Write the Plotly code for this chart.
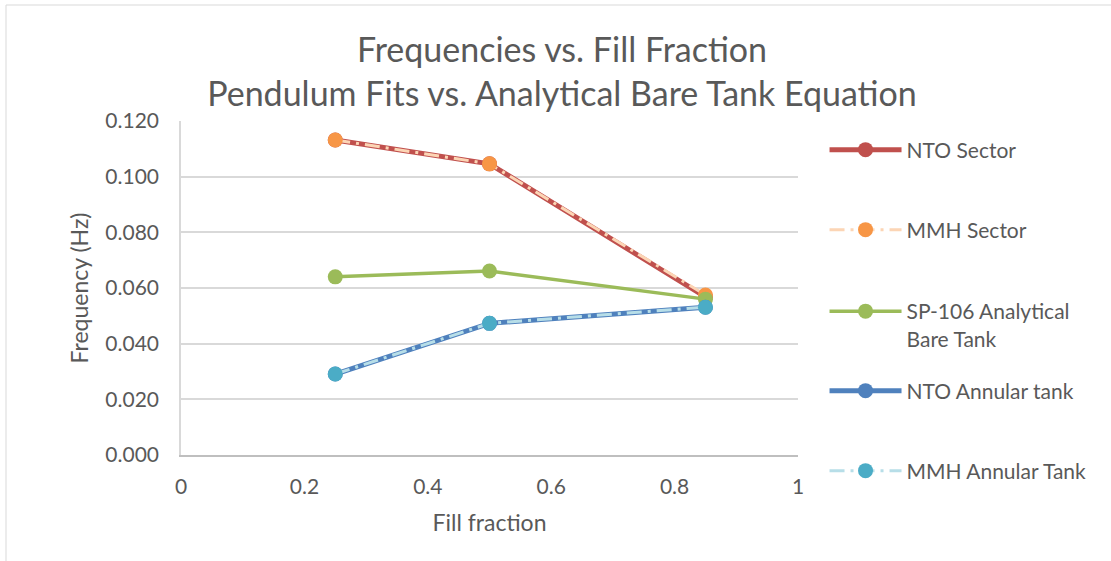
import plotly.graph_objects as go

fill = [0.25, 0.5, 0.85]
nto_sector = [0.1132, 0.1046, 0.0568]
mmh_sector = [0.1132, 0.1046, 0.0575]
sp106 = [0.0640, 0.0661, 0.0560]
nto_annular = [0.0291, 0.0473, 0.0531]
mmh_annular = [0.0291, 0.0473, 0.0531]

x_ticks = [0, 0.2, 0.4, 0.6, 0.8, 1]
x_labels = ["0", "0.2", "0.4", "0.6", "0.8", "1"]
y_ticks = [0, 0.02, 0.04, 0.06, 0.08, 0.10, 0.12]

FONT = "Lato"
TXT = "#595959"

series = [
    ("NTO Sector", nto_sector, "#C0504D", "#C0504D", 5, "solid"),
    ("MMH Sector", mmh_sector, "#FCD5B5", "#F79646", 3, "longdashdot"),
    ("SP-106 Analytical<br>Bare Tank", sp106, "#9BBB59", "#9BBB59", 3.5, "solid"),
    ("NTO Annular tank", nto_annular, "#4F81BD", "#4F81BD", 5, "solid"),
    ("MMH Annular Tank", mmh_annular, "#B7DEE8", "#4BACC6", 3, "longdashdot"),
]
# legend entry centres (pixels from top of the figure)
legend_centres = [150, 230, 325, 391, 471]

PLOT_BOTTOM, PLOT_H = 455, 334

fig = go.Figure()
layout_legends = {}
for i, (name, vals, lc, mc, w, dash) in enumerate(series):
    lid = "legend" if i == 0 else f"legend{i + 1}"
    fig.add_trace(go.Scatter(
        x=fill, y=vals, name=name, mode="lines+markers",
        legend=lid,
        line=dict(color=lc, width=w, dash=dash),
        marker=dict(color=mc, size=15, line=dict(width=0)),
    ))
    layout_legends[lid] = dict(
        x=1.043, xanchor="left",
        y=(PLOT_BOTTOM - legend_centres[i]) / PLOT_H, yanchor="middle",
        font=dict(family=FONT, size=21, color=TXT),
        itemwidth=72, valign="top", bgcolor="rgba(0,0,0,0)",
    )

fig.update_layout(
    width=1111, height=561,
    margin=dict(l=181, r=313, t=121, b=106),
    paper_bgcolor="white", plot_bgcolor="white",
    font=dict(family=FONT, color=TXT, size=20),
    title=dict(
        text="Frequencies vs. Fill Fraction<br>Pendulum Fits vs. Analytical Bare Tank Equation",
        x=562 / 1111, xanchor="center", y=1 - 62 / 561, yanchor="middle",
        font=dict(family=FONT, size=34, color=TXT),
    ),
    showlegend=True,
    **layout_legends,
)

fig.update_xaxes(
    range=[0, 1], tickvals=x_ticks, ticktext=x_labels,
    showgrid=False, zeroline=False,
    showline=True, linecolor="#BFBFBF", linewidth=1.5,
    ticks="outside", ticklen=12, tickcolor="rgba(0,0,0,0)",
    tickfont=dict(size=21, color=TXT),
    title=dict(text="Fill fraction", font=dict(size=23, color=TXT), standoff=18),
)
fig.update_yaxes(
    range=[0, 0.12], tickvals=y_ticks, tickformat=".3f",
    showgrid=True, gridcolor="#D9D9D9", gridwidth=1.5, zeroline=False,
    showline=True, linecolor="#D9D9D9", linewidth=1.5,
    ticks="outside", ticklen=16, tickcolor="rgba(0,0,0,0)",
    tickfont=dict(size=21, color=TXT),
    title=dict(text="Frequency (Hz)", font=dict(size=23, color=TXT), standoff=10),
)

# outer chart border (partially visible, as in the reference)
fig.add_shape(type="rect", xref="paper", yref="paper",
              x0=(6 - 181) / 617, x1=(1140 - 181) / 617,
              y0=(455 - 600) / 334, y1=(455 - 5) / 334,
              line=dict(color="#D9D9D9", width=1), layer="below")

fig.write_html("out.html")
